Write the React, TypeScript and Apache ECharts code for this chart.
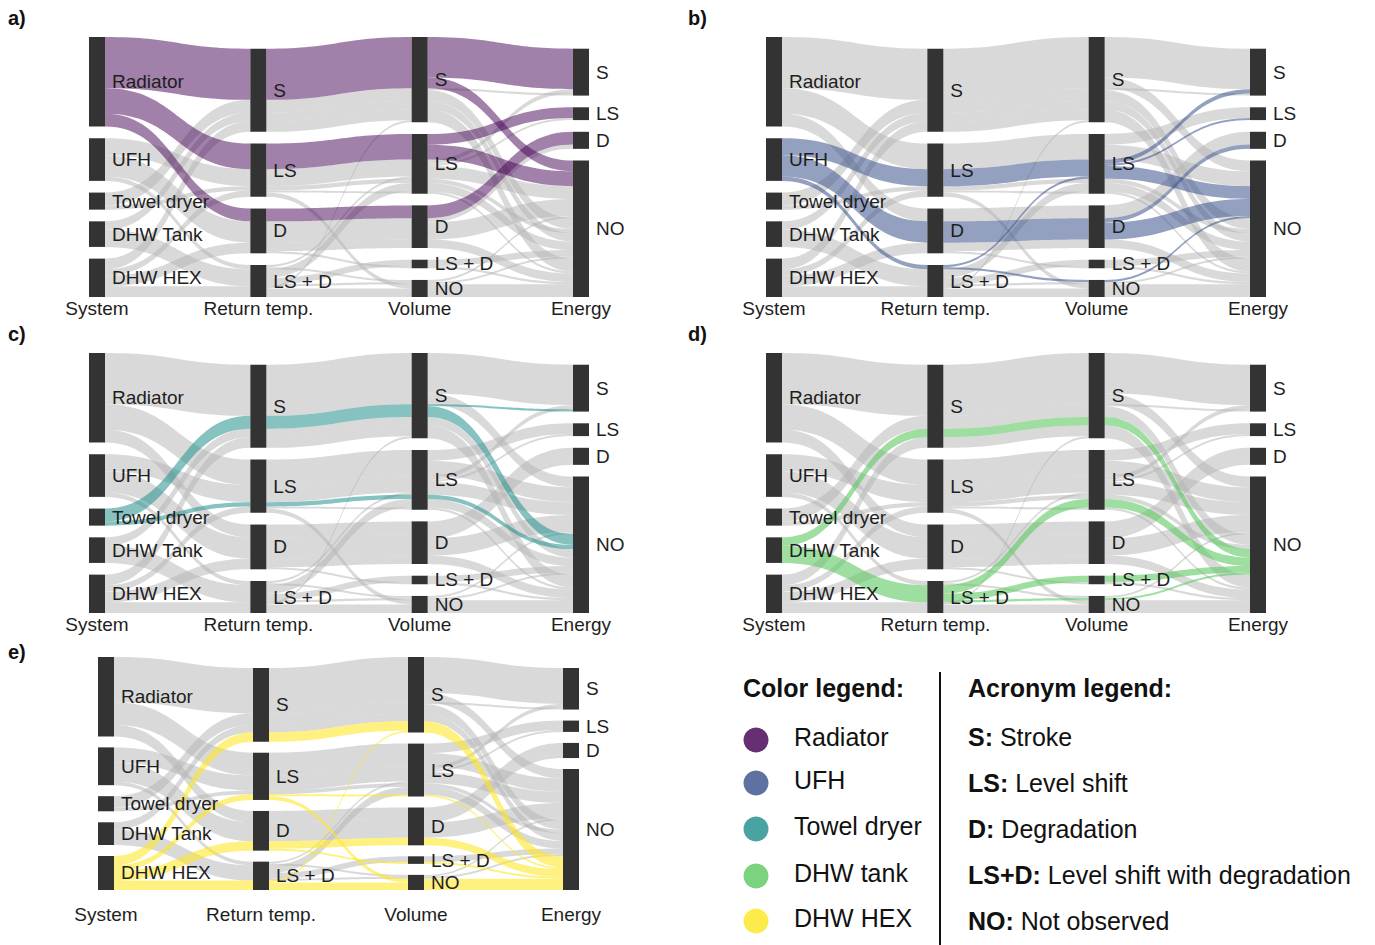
import React, { useEffect, useRef } from 'react';
import * as echarts from 'echarts';

// ---------------- data ----------------
const STAGES = ['System', 'Return temp.', 'Volume', 'Energy'];
const SYSTEMS = ['Radiator', 'UFH', 'Towel dryer', 'DHW Tank', 'DHW HEX'];
const RETURN_TEMP = ['S', 'LS', 'D', 'LS + D'];
const VOLUME = ['S', 'LS', 'D', 'LS + D', 'NO'];
const ENERGY = ['S', 'LS', 'D', 'NO'];

// each path: [return temp, volume, energy, count]
const RADIATOR_PATHS: [string, string, string, number][] = [
  ['S', 'S', 'S', 19], ['S', 'S', 'NO', 5], ['LS', 'LS', 'LS', 5], ['LS', 'LS', 'NO', 7], ['D', 'D', 'D', 6],
];
const UFH_PATHS: [string, string, string, number][] = [
  ['LS', 'LS', 'S', 2], ['LS', 'LS', 'LS', 1], ['LS', 'LS', 'NO', 5], ['D', 'D', 'D', 2], ['D', 'D', 'NO', 8],
  ['LS + D', 'LS', 'NO', 1], ['LS + D', 'NO', 'NO', 1],
];
const TOWEL_PATHS: [string, string, string, number][] = [
  ['S', 'S', 'S', 1], ['S', 'S', 'NO', 5], ['LS', 'LS', 'NO', 2],
];
const TANK_PATHS: [string, string, string, number][] = [
  ['S', 'S', 'NO', 4], ['LS + D', 'LS', 'NO', 4], ['LS + D', 'LS + D', 'NO', 3], ['LS + D', 'NO', 'NO', 1],
];
const HEX_PATHS: [string, string, string, number][] = [
  ['S', 'S', 'NO', 5], ['LS', 'LS', 'NO', 1], ['LS', 'NO', 'NO', 2], ['D', 'D', 'NO', 4],
  ['D', 'LS + D', 'NO', 1], ['LS + D', 'S', 'NO', 1], ['LS + D', 'NO', 'NO', 4],
];
const ALL_PATHS = [RADIATOR_PATHS, UFH_PATHS, TOWEL_PATHS, TANK_PATHS, HEX_PATHS];

const PANEL_LETTERS = ['a)', 'b)', 'c)', 'd)', 'e)'];
const LEGEND_LABELS = ['Radiator', 'UFH', 'Towel dryer', 'DHW tank', 'DHW HEX'];
const ACRONYM_KEYS = ['S:', 'LS:', 'D:', 'LS+D:', 'NO:'];
const ACRONYM_TEXT = ['Stroke', 'Level shift', 'Degradation', 'Level shift with degradation', 'Not observed'];

// ---------------- styles / layout ----------------
const SYSTEM_COLORS = ['#440154', '#3b528b', '#21908c', '#5ec962', '#fde725'];
const FLOW_OPACITY = [0.5, 0.55, 0.55, 0.6, 0.58];
const LINK_GREY = '#b3b3b3';
const GREY_OPACITY = 0.5;
const NODE_COLOR = '#333333';
const TEXT_COLOR = '#1e1e1e';
const FONT = "'Liberation Sans', Arial, Helvetica, sans-serif";
const NODE_WIDTH = 16;

const PANELS = [
  { left: 89, top: 37, width: 500, height: 260, gap: 11.7, labelDy: 11, letterX: 8, letterY: 18 },
  { left: 766, top: 37, width: 500, height: 260, gap: 11.7, labelDy: 11, letterX: 688, letterY: 18 },
  { left: 89, top: 353, width: 500, height: 260, gap: 11.7, labelDy: 11, letterX: 8, letterY: 334 },
  { left: 766, top: 353, width: 500, height: 260, gap: 11.7, labelDy: 11, letterX: 688, letterY: 334 },
  { left: 98, top: 657, width: 481, height: 233, gap: 11, labelDy: 24, letterX: 8, letterY: 652 },
];

// Re-order lodes inside every stratum by system first (alluvial style)
const g: any = globalThis as any;
if (!g.__alluvialLayoutRegistered) {
  g.__alluvialLayoutRegistered = true;
  (echarts as any).registerLayout(1050, (ecModel: any) => {
    ecModel.eachSeriesByType('sankey', (seriesModel: any) => {
      try {
        const graph = seriesModel.getGraph();
        const sysOf = (e: any) => {
          const v = e.getModel().get('sys');
          return v == null ? 0 : v;
        };
        graph.eachNode((node: any) => {
          const outs = node.outEdges.slice();
          outs.sort((a: any, b: any) => sysOf(a) - sysOf(b) || a.node2.getLayout().y - b.node2.getLayout().y);
          let sy = 0;
          outs.forEach((e: any) => { e.setLayout({ sy }, true); sy += e.getLayout().dy; });
          const ins = node.inEdges.slice();
          ins.sort((a: any, b: any) => sysOf(a) - sysOf(b) || a.node1.getLayout().y - b.node1.getLayout().y);
          let ty = 0;
          ins.forEach((e: any) => { e.setLayout({ ty }, true); ty += e.getLayout().dy; });
        });
      } catch (err) {
        // keep default ordering
      }
    });
  });
}

function buildNodes(withLabels: boolean) {
  const nodes: any[] = [];
  const spacer = (depth: number) => ({
    name: `${depth}|spacer`, depth, value: 0,
    itemStyle: { opacity: 0 }, label: { show: false },
  });
  SYSTEMS.forEach((s) => nodes.push({ name: `0|${s}` }));
  nodes.push(spacer(1));
  RETURN_TEMP.forEach((s) => nodes.push({ name: `1|${s}` }));
  VOLUME.forEach((s) => nodes.push({ name: `2|${s}` }));
  nodes.push(spacer(3));
  ENERGY.forEach((s) => nodes.push({ name: `3|${s}` }));
  if (!withLabels) {
    nodes.forEach((n) => { n.itemStyle = { opacity: 0 }; n.label = { show: false }; });
  }
  return nodes;
}

function buildLinks() {
  const map = new Map<string, any>();
  const links: any[] = [];
  ALL_PATHS.forEach((paths, si) => {
    paths.forEach(([r, v, e, n]) => {
      const chain = [`0|${SYSTEMS[si]}`, `1|${r}`, `2|${v}`, `3|${e}`];
      for (let k = 0; k < 3; k++) {
        const key = `${chain[k]}>${chain[k + 1]}#${si}`;
        const ex = map.get(key);
        if (ex) ex.value += n;
        else {
          const l = { source: chain[k], target: chain[k + 1], value: n, sys: si };
          map.set(key, l);
          links.push(l);
        }
      }
    });
  });
  return links;
}

function buildOption() {
  const series: any[] = [];
  const graphic: any[] = [];
  const baseLinks = buildLinks();

  PANELS.forEach((p, hi) => {
    const common = {
      type: 'sankey',
      left: p.left, top: p.top, width: p.width, height: p.height,
      nodeWidth: NODE_WIDTH, nodeGap: p.gap,
      layoutIterations: 0, nodeAlign: 'left',
      draggable: false, silent: true,
      emphasis: { disabled: true, focus: 'none' },
      itemStyle: { color: NODE_COLOR, borderWidth: 0 },
    };
    // grey background flows
    series.push({
      ...common,
      data: buildNodes(false),
      links: baseLinks.map((l) => ({
        ...l,
        lineStyle: { color: LINK_GREY, opacity: l.sys === hi ? 0 : GREY_OPACITY, curveness: 0.5 },
      })),
      label: { show: false },
    });
    // highlighted flows + nodes + labels
    series.push({
      ...common,
      data: buildNodes(true),
      links: baseLinks.map((l) => ({
        ...l,
        lineStyle: {
          color: SYSTEM_COLORS[l.sys],
          opacity: l.sys === hi ? FLOW_OPACITY[hi] : 0,
          curveness: 0.5,
        },
      })),
      label: {
        show: true, position: 'right', distance: 7,
        fontSize: 19, fontFamily: FONT, color: TEXT_COLOR,
        formatter: (q: any) => String(q.name).split('|')[1],
      },
    });

    // stage titles
    const step = (p.width - NODE_WIDTH) / (STAGES.length - 1);
    STAGES.forEach((st, k) => {
      graphic.push({
        type: 'text', silent: true,
        x: p.left + k * step + NODE_WIDTH / 2,
        y: p.top + p.height + p.labelDy,
        style: {
          text: st, fontSize: 19, fontFamily: FONT, fill: TEXT_COLOR,
          align: 'center', verticalAlign: 'middle', textAlign: 'center', textVerticalAlign: 'middle',
        },
      });
    });
    graphic.push({
      type: 'text', silent: true, x: p.letterX, y: p.letterY,
      style: {
        text: PANEL_LETTERS[hi], fontSize: 20, fontWeight: 'bold', fontFamily: FONT, fill: '#111',
        align: 'left', verticalAlign: 'middle', textAlign: 'left', textVerticalAlign: 'middle',
      },
    });
  });

  // colour legend
  const rowsY = [740, 783, 829, 876, 921];
  graphic.push({
    type: 'text', silent: true, x: 743, y: 688,
    style: {
      text: 'Color legend:', fontSize: 25, fontWeight: 'bold', fontFamily: FONT, fill: '#111',
      align: 'left', verticalAlign: 'middle', textAlign: 'left', textVerticalAlign: 'middle',
    },
  });
  LEGEND_LABELS.forEach((lab, i) => {
    graphic.push({
      type: 'circle', silent: true,
      shape: { cx: 756, cy: rowsY[i], r: 12.5 },
      style: { fill: SYSTEM_COLORS[i], opacity: 0.82 },
    });
    graphic.push({
      type: 'text', silent: true, x: 794, y: rowsY[i] - 3,
      style: {
        text: lab, fontSize: 25, fontFamily: FONT, fill: '#111',
        align: 'left', verticalAlign: 'middle', textAlign: 'left', textVerticalAlign: 'middle',
      },
    });
  });
  graphic.push({
    type: 'line', silent: true,
    shape: { x1: 940, y1: 672, x2: 940, y2: 945 },
    style: { stroke: '#111', lineWidth: 2 },
  });

  // acronym legend
  graphic.push({
    type: 'text', silent: true, x: 968, y: 688,
    style: {
      text: 'Acronym legend:', fontSize: 25, fontWeight: 'bold', fontFamily: FONT, fill: '#111',
      align: 'left', verticalAlign: 'middle', textAlign: 'left', textVerticalAlign: 'middle',
    },
  });
  const acrY = [737, 783, 829, 875, 921];
  ACRONYM_KEYS.forEach((k, i) => {
    graphic.push({
      type: 'text', silent: true, x: 968, y: acrY[i],
      style: {
        text: `{b|${k}} ${ACRONYM_TEXT[i]}`,
        fontSize: 25, fontFamily: FONT, fill: '#111',
        rich: { b: { fontSize: 25, fontFamily: FONT, fontWeight: 'bold', fill: '#111', color: '#111' } },
        align: 'left', verticalAlign: 'middle', textAlign: 'left', textVerticalAlign: 'middle',
      },
    });
  });

  return {
    animation: false,
    backgroundColor: '#ffffff',
    textStyle: { fontFamily: FONT },
    series,
    graphic: { elements: graphic },
  };
}

export default function App() {
  const ref = useRef<HTMLDivElement>(null);
  useEffect(() => {
    if (!ref.current) return;
    const chart = echarts.init(ref.current, null, { renderer: 'svg' });
    chart.setOption(buildOption() as any);
    return () => chart.dispose();
  }, []);
  return (
    <div
      ref={ref}
      style={{ position: 'absolute', left: 0, top: 0, width: 1375, height: 945, background: '#fff' }}
    />
  );
}
